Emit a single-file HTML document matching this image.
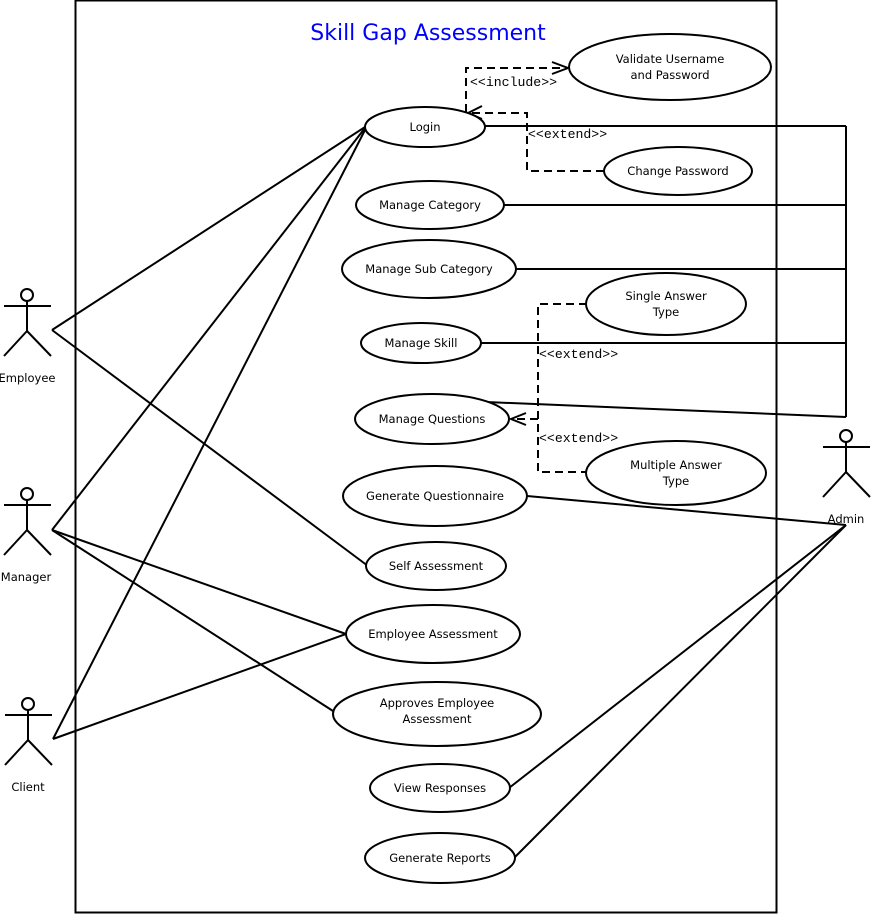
<!DOCTYPE html>
<html><head><style>body{margin:0;background:#fff}svg{display:block}text{font-family:"DejaVu Sans","Liberation Sans",sans-serif;font-size:11.5px}text.m{font-family:"Liberation Mono",monospace;font-size:13.2px}</style></head><body>
<svg width="872" height="914" viewBox="0 0 872 914" xmlns="http://www.w3.org/2000/svg">
<rect x="75.5" y="0.5" width="701" height="912" fill="none" stroke="#000" stroke-width="2"/>
<text x="428" y="40" text-anchor="middle" fill="#0000ff" style="font-size:22px">Skill Gap Assessment</text>
<g stroke="#000" stroke-width="2" fill="none">
<line x1="52" y1="330" x2="365" y2="127"/><line x1="52" y1="330" x2="368" y2="566"/>
<line x1="52" y1="530" x2="365" y2="128"/><line x1="52" y1="530" x2="346" y2="634"/><line x1="52" y1="530" x2="333" y2="711"/>
<line x1="53" y1="739" x2="365" y2="130"/><line x1="53" y1="739" x2="346" y2="634"/>
<line x1="846" y1="126" x2="846" y2="417"/>
<line x1="485" y1="126" x2="846" y2="126"/><line x1="504" y1="205" x2="846" y2="205"/><line x1="516" y1="269" x2="846" y2="269"/><line x1="481" y1="343" x2="846" y2="343"/>
<line x1="486" y1="402" x2="846" y2="417"/><line x1="527" y1="496" x2="846" y2="525"/><line x1="509" y1="788" x2="846" y2="525"/><line x1="514" y1="858" x2="846" y2="525"/>
</g>
<g stroke="#000" stroke-width="2" fill="none" stroke-dasharray="8,5">
<polyline points="466,112 466,68 566,68"/>
<polyline points="604,171 527,171 527,113 470,113"/>
<polyline points="587,304 538,304 538,472 586,472"/>
<line x1="538" y1="419" x2="512" y2="419"/>
</g>
<g stroke="#000" stroke-width="2" fill="none">
<polyline points="552,62 568,68 552,74"/>
<polyline points="482,106 468,113 482,119"/>
<polyline points="526,413 511,419 526,425"/>
</g>
<g fill="#000">
<text class="m" x="470" y="86">&lt;&lt;include&gt;&gt;</text>
<text class="m" x="528" y="138">&lt;&lt;extend&gt;&gt;</text>
<text class="m" x="539" y="358">&lt;&lt;extend&gt;&gt;</text>
<text class="m" x="539" y="442">&lt;&lt;extend&gt;&gt;</text>
</g>
<g stroke="#000" stroke-width="2" fill="#fff">
<ellipse cx="670" cy="67" rx="101" ry="33"/>
<ellipse cx="425" cy="127" rx="60" ry="20"/>
<ellipse cx="678" cy="171" rx="74" ry="24"/>
<ellipse cx="430" cy="205" rx="74" ry="24"/>
<ellipse cx="429" cy="269" rx="87" ry="29"/>
<ellipse cx="666" cy="304" rx="80" ry="31"/>
<ellipse cx="421" cy="343" rx="60" ry="20"/>
<ellipse cx="432" cy="419" rx="77" ry="25"/>
<ellipse cx="676" cy="473" rx="90" ry="32"/>
<ellipse cx="435" cy="496" rx="92" ry="30"/>
<ellipse cx="436" cy="566" rx="70" ry="24"/>
<ellipse cx="433" cy="634" rx="87" ry="29"/>
<ellipse cx="437" cy="714" rx="104" ry="32"/>
<ellipse cx="440" cy="788" rx="70" ry="24"/>
<ellipse cx="440" cy="858" rx="75" ry="25"/>
</g>
<g text-anchor="middle" fill="#000">
<text x="670" y="63">Validate Username</text><text x="670" y="79">and Password</text>
<text x="425" y="131">Login</text>
<text x="678" y="175">Change Password</text>
<text x="430" y="209">Manage Category</text>
<text x="429" y="273">Manage Sub Category</text>
<text x="666" y="300">Single Answer</text><text x="666" y="316">Type</text>
<text x="421" y="347">Manage Skill</text>
<text x="432" y="423">Manage Questions</text>
<text x="676" y="469">Multiple Answer</text><text x="676" y="485">Type</text>
<text x="435" y="500">Generate Questionnaire</text>
<text x="436" y="570">Self Assessment</text>
<text x="433" y="638">Employee Assessment</text>
<text x="437" y="707">Approves Employee</text><text x="437" y="723">Assessment</text>
<text x="440" y="792">View Responses</text>
<text x="440" y="862">Generate Reports</text>
</g>
<g stroke="#000" stroke-width="2" fill="none">
<g transform="translate(27,295)"><circle cx="0" cy="0" r="6"/><line x1="-23" y1="11" x2="24" y2="11"/><line x1="0" y1="6" x2="0" y2="36"/><line x1="0" y1="36" x2="-23" y2="61"/><line x1="0" y1="36" x2="24" y2="61"/></g>
<g transform="translate(27,494)"><circle cx="0" cy="0" r="6"/><line x1="-23" y1="11" x2="24" y2="11"/><line x1="0" y1="6" x2="0" y2="36"/><line x1="0" y1="36" x2="-23" y2="61"/><line x1="0" y1="36" x2="24" y2="61"/></g>
<g transform="translate(28,704)"><circle cx="0" cy="0" r="6"/><line x1="-23" y1="11" x2="24" y2="11"/><line x1="0" y1="6" x2="0" y2="36"/><line x1="0" y1="36" x2="-23" y2="61"/><line x1="0" y1="36" x2="24" y2="61"/></g>
<g transform="translate(846,436)"><circle cx="0" cy="0" r="6"/><line x1="-23" y1="11" x2="24" y2="11"/><line x1="0" y1="6" x2="0" y2="36"/><line x1="0" y1="36" x2="-23" y2="61"/><line x1="0" y1="36" x2="24" y2="61"/></g>
</g>
<g text-anchor="middle" fill="#000">
<text x="27" y="382">Employee</text>
<text x="26" y="581">Manager</text>
<text x="28" y="791">Client</text>
<text x="846" y="523">Admin</text>
</g>
</svg>
</body></html>
